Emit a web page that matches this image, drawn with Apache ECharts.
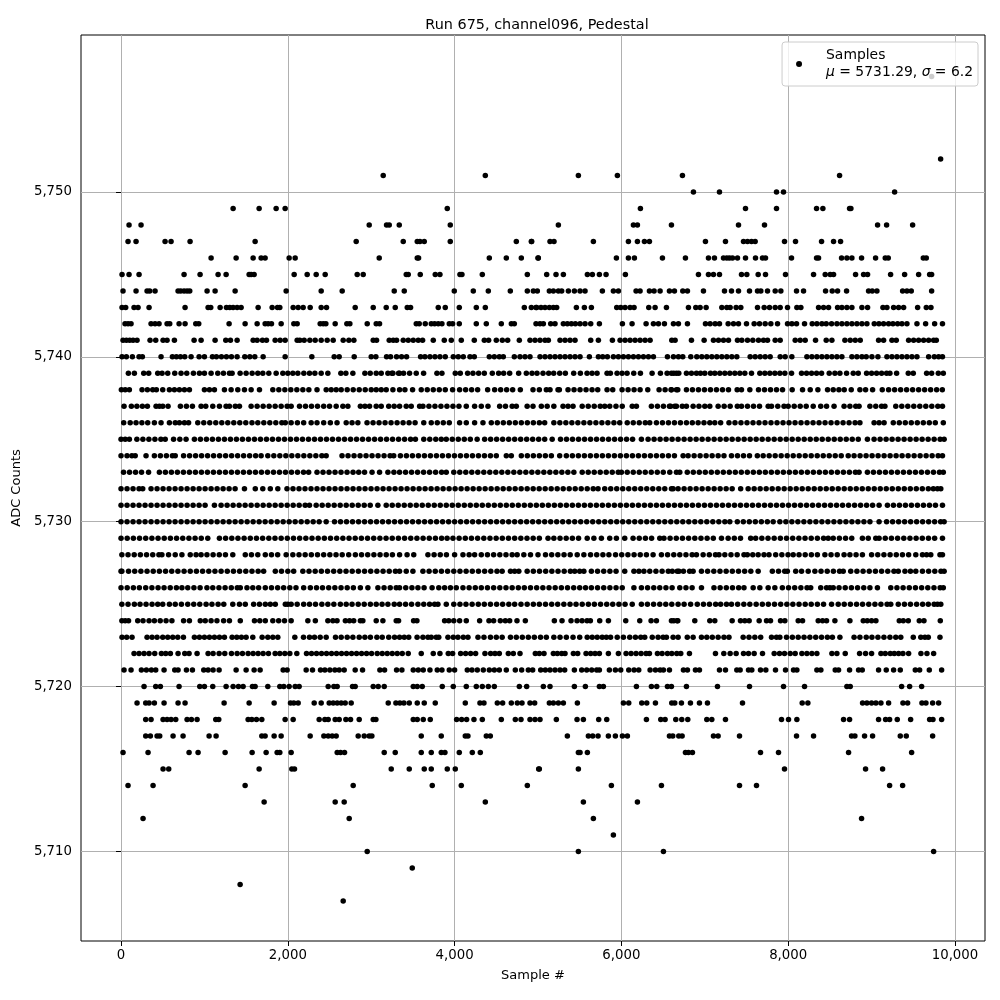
<!DOCTYPE html>
<html>
<head>
  <meta charset="utf-8">
  <title>Run 675, channel096, Pedestal</title>
  <script src="https://cdn.jsdelivr.net/npm/echarts@6/dist/echarts.min.js"></script>
  <style>html,body{margin:0;background:#fff}</style>
</head>
<body>
  <div id="main" style="width:1000px;height:1000px;"></div>
  <script>
    const xTicks = [0, 2000, 4000, 6000, 8000, 10000];
    const yTicks = [5710, 5720, 5730, 5740, 5750];

    // sample numbers, one list per ADC level
    const s5707 = [2664];
    const s5708 = [1428];
    const s5709 = [3492];
    const s5710 = [2952, 5484, 6504, 9744];
    const s5711 = [5904];
    const s5712 = [264, 2736, 5664, 8880];
    const s5713 = [1716, 2568, 2676, 4368, 5544, 6192];
    const s5714 = [84, 384, 1488, 2784, 3732, 4080, 4872, 5880, 6480, 7416, 7620, 9216, 9372];
    const s5715 = [504, 572, 1656, 2048, 2080, 3240, 3456, 3636, 3720, 3912, 4008, 5008, 5016, 5484, 7956, 8928, 9132];
    const s5716 = [24, 324, 816, 924, 1248, 1572, 1740, 1872, 1904, 2040, 2592, 2632, 2680, 3156, 3288, 3600, 3720, 3840, 3884, 4056, 4212, 4308, 5484, 5504, 5592, 6768, 6804, 6852, 7668, 7884, 8724, 9480];
    const s5717 = [296, 352, 432, 464, 624, 744, 1056, 1140, 1688, 1728, 1836, 1920, 2268, 2432, 2484, 2532, 2580, 2844, 2916, 2976, 3008, 3600, 3840, 4128, 4160, 4380, 4428, 5352, 5604, 5656, 5720, 5844, 5928, 6012, 6072, 6576, 6616, 6688, 6728, 7104, 7160, 7416, 8100, 8304, 8760, 8800, 8916, 9012, 9344, 9416, 9732];
    const s5718 = [296, 360, 504, 552, 600, 656, 792, 844, 912, 1136, 1172, 1524, 1568, 1624, 1688, 1968, 2064, 2376, 2444, 2484, 2568, 2616, 2696, 2752, 2856, 3024, 3056, 3504, 3552, 3624, 3708, 4024, 4084, 4144, 4232, 4332, 4560, 4728, 4796, 4904, 4964, 5024, 5220, 5468, 5544, 5728, 5824, 6300, 6472, 6524, 6652, 6724, 6796, 7024, 7084, 7248, 7920, 8004, 8104, 8664, 8736, 9084, 9168, 9216, 9308, 9468, 9696, 9736, 9840];
    const s5719 = [192, 296, 336, 400, 516, 684, 768, 1236, 1536, 1836, 2032, 2072, 2124, 2316, 2400, 2496, 2544, 2592, 2640, 2688, 2760, 3204, 3296, 3344, 3392, 3456, 3552, 3636, 3768, 4128, 4304, 4352, 4512, 4576, 4680, 4752, 4808, 4904, 4960, 5136, 5184, 5244, 5304, 5472, 6024, 6088, 6244, 6304, 6408, 6604, 6640, 6720, 6828, 6936, 7032, 7452, 8168, 8236, 8892, 8944, 9000, 9052, 9112, 9204, 9376, 9432, 9604, 9652, 9732, 9804];
    const s5720 = [276, 416, 472, 696, 944, 1000, 1100, 1260, 1344, 1408, 1464, 1576, 1608, 1760, 1904, 1952, 2016, 2088, 2136, 2484, 2552, 2592, 2776, 2808, 3024, 3084, 3156, 3504, 3552, 3612, 3852, 3984, 4140, 4260, 4332, 4404, 4476, 4776, 4864, 5064, 5144, 5436, 5568, 5736, 5784, 6180, 6360, 6424, 6552, 6600, 6780, 7152, 7536, 7944, 8196, 8704, 8744, 9360, 9456, 9600];
    const s5721 = [36, 120, 244, 304, 364, 416, 516, 644, 684, 784, 856, 992, 1044, 1104, 1176, 1380, 1500, 1596, 1668, 1944, 1992, 2220, 2296, 2392, 2444, 2504, 2564, 2616, 2676, 2808, 2896, 3104, 3160, 3304, 3368, 3504, 3564, 3624, 3704, 3792, 3848, 3936, 4000, 4152, 4208, 4272, 4344, 4416, 4476, 4536, 4620, 4728, 4804, 4884, 4936, 5032, 5088, 5144, 5204, 5264, 5320, 5436, 5524, 5584, 5644, 5704, 5736, 5856, 5928, 5992, 6088, 6152, 6208, 6344, 6408, 6464, 6504, 6576, 6744, 6792, 6888, 6936, 7176, 7248, 7384, 7424, 7524, 7564, 7668, 7732, 7848, 7968, 8064, 8104, 8344, 8392, 8564, 8604, 8736, 8844, 8888, 9084, 9176, 9264, 9344, 9524, 9576, 9692, 9840];
    const s5722 = [156, 216, 276, 336, 404, 484, 536, 592, 684, 764, 816, 912, 1044, 1104, 1176, 1244, 1324, 1392, 1456, 1524, 1584, 1644, 1704, 1768, 1848, 1904, 1964, 2024, 2108, 2224, 2284, 2344, 2404, 2464, 2524, 2584, 2644, 2704, 2764, 2824, 2884, 2944, 3004, 3072, 3132, 3192, 3252, 3312, 3372, 3444, 3600, 3744, 3824, 3924, 3976, 4072, 4132, 4192, 4252, 4364, 4432, 4484, 4536, 4644, 4704, 4784, 4968, 5016, 5072, 5184, 5232, 5284, 5324, 5424, 5476, 5576, 5632, 5684, 5736, 5844, 5964, 6056, 6116, 6176, 6236, 6296, 6336, 6432, 6488, 6552, 6604, 6664, 6712, 6816, 7128, 7228, 7304, 7376, 7464, 7524, 7592, 7692, 7832, 7896, 7956, 8024, 8084, 8164, 8224, 8284, 8344, 8524, 8584, 8684, 8856, 8928, 9000, 9112, 9164, 9224, 9272, 9324, 9376, 9444, 9592, 9664, 9744];
    const s5723 = [12, 68, 132, 312, 372, 432, 500, 560, 620, 680, 748, 880, 940, 1000, 1060, 1120, 1180, 1240, 1332, 1388, 1444, 1500, 1580, 1692, 1760, 1820, 1880, 2084, 2188, 2260, 2320, 2388, 2460, 2572, 2640, 2712, 2780, 2856, 2924, 2990, 3068, 3132, 3210, 3280, 3340, 3396, 3450, 3550, 3620, 3680, 3720, 3780, 3810, 3920, 3984, 4040, 4104, 4160, 4280, 4352, 4430, 4500, 4570, 4670, 4740, 4812, 4884, 4956, 5030, 5100, 5190, 5264, 5340, 5420, 5500, 5590, 5650, 5710, 5770, 5820, 5870, 5950, 6024, 6100, 6168, 6232, 6280, 6370, 6440, 6500, 6540, 6620, 6680, 6790, 6860, 6960, 7024, 7090, 7160, 7230, 7290, 7460, 7530, 7600, 7670, 7800, 7860, 7900, 7980, 8050, 8120, 8190, 8260, 8330, 8400, 8470, 8530, 8620, 8790, 8860, 8936, 9004, 9076, 9148, 9220, 9290, 9350, 9500, 9590, 9640, 9680, 9820];
    const s5724 = [10, 50, 90, 200, 264, 336, 400, 470, 540, 610, 750, 820, 950, 1010, 1080, 1150, 1230, 1300, 1430, 1600, 1664, 1730, 1820, 1890, 1960, 2040, 2240, 2330, 2480, 2540, 2590, 2690, 2740, 2790, 2870, 2900, 3060, 3140, 3300, 3328, 3508, 3548, 3880, 3930, 3990, 4060, 4140, 4300, 4412, 4468, 4548, 4608, 4660, 4748, 4848, 5196, 5288, 5396, 5468, 5528, 5588, 5628, 5740, 5844, 6052, 6220, 6356, 6420, 6628, 6676, 6600, 6668, 6880, 7060, 7120, 7328, 7428, 7480, 7532, 7652, 7740, 7788, 7908, 7960, 8120, 8172, 8360, 8412, 8460, 8560, 8740, 8900, 8948, 9000, 9052, 9332, 9380, 9440, 9572, 9628, 9824];
    const s5725 = [10, 84, 160, 228, 300, 372, 440, 500, 580, 650, 724, 800, 872, 944, 1020, 1090, 1164, 1232, 1340, 1420, 1490, 1590, 1660, 1730, 1790, 1850, 1970, 2000, 2040, 2112, 2190, 2260, 2332, 2408, 2480, 2552, 2630, 2700, 2770, 2844, 2916, 2990, 3060, 3130, 3200, 3276, 3340, 3412, 3484, 3560, 3630, 3700, 3760, 3800, 3900, 3990, 4064, 4136, 4210, 4284, 4356, 4430, 4504, 4576, 4650, 4720, 4796, 4870, 4944, 5016, 5090, 5164, 5236, 5310, 5384, 5456, 5530, 5604, 5676, 5750, 5824, 5896, 5970, 6044, 6130, 6240, 6312, 6386, 6460, 6532, 6604, 6680, 6752, 6830, 6910, 6984, 7056, 7130, 7190, 7260, 7320, 7394, 7468, 7540, 7616, 7690, 7762, 7836, 7910, 7984, 8056, 8130, 8204, 8276, 8350, 8424, 8520, 8600, 8672, 8746, 8820, 8892, 8966, 9040, 9112, 9186, 9230, 9320, 9394, 9466, 9540, 9612, 9680, 9750, 9790, 9830];
    const s5726 = [0, 74, 148, 220, 296, 370, 444, 516, 590, 664, 730, 800, 874, 948, 1030, 1100, 1174, 1248, 1322, 1394, 1430, 1510, 1580, 1650, 1730, 1804, 1878, 1950, 2024, 2098, 2190, 2270, 2344, 2416, 2490, 2564, 2638, 2712, 2786, 2870, 2960, 3080, 3154, 3228, 3300, 3340, 3414, 3488, 3560, 3634, 3730, 3810, 3880, 3950, 4020, 4100, 4174, 4248, 4320, 4394, 4468, 4542, 4616, 4690, 4764, 4836, 4910, 4984, 5058, 5132, 5206, 5280, 5354, 5428, 5500, 5570, 5640, 5714, 5788, 5862, 5936, 6010, 6150, 6240, 6314, 6388, 6460, 6534, 6608, 6700, 6774, 6848, 6960, 7110, 7184, 7258, 7332, 7406, 7470, 7580, 7660, 7760, 7840, 7930, 8004, 8078, 8152, 8226, 8270, 8390, 8460, 8500, 8540, 8610, 8684, 8758, 8832, 8906, 8980, 9070, 9230, 9304, 9378, 9452, 9526, 9600, 9674, 9748, 9822, 9860];
    const s5727 = [0, 10, 90, 164, 238, 312, 386, 460, 534, 608, 682, 756, 830, 904, 978, 1052, 1126, 1200, 1274, 1348, 1422, 1496, 1570, 1644, 1710, 1850, 1924, 2000, 2070, 2180, 2254, 2328, 2402, 2476, 2550, 2624, 2698, 2772, 2846, 2920, 2994, 3068, 3142, 3216, 3290, 3340, 3420, 3500, 3620, 3694, 3768, 3842, 3916, 3990, 4064, 4138, 4212, 4286, 4360, 4434, 4508, 4570, 4670, 4720, 4770, 4870, 4944, 5018, 5092, 5166, 5240, 5314, 5388, 5440, 5500, 5550, 5640, 5714, 5788, 5862, 5936, 6040, 6150, 6210, 6270, 6340, 6414, 6488, 6562, 6610, 6690, 6670, 6744, 6818, 6860, 6960, 7034, 7108, 7182, 7256, 7330, 7404, 7478, 7552, 7640, 7810, 7884, 7958, 7990, 8090, 8160, 8240, 8320, 8394, 8468, 8542, 8616, 8660, 8750, 8824, 8898, 8972, 9046, 9120, 9194, 9268, 9320, 9400, 9466, 9530, 9610, 9684, 9758, 9832, 9870];
    const s5728 = [10, 84, 158, 232, 306, 380, 454, 490, 570, 650, 730, 830, 900, 960, 1030, 1104, 1178, 1252, 1340, 1490, 1564, 1640, 1730, 1804, 1878, 1980, 2060, 2134, 2208, 2282, 2356, 2430, 2504, 2578, 2652, 2730, 2810, 2884, 2958, 3032, 3106, 3180, 3254, 3340, 3430, 3510, 3680, 3754, 3828, 3902, 4000, 4100, 4174, 4240, 4320, 4394, 4468, 4542, 4616, 4690, 4750, 4830, 4910, 5000, 5090, 5164, 5238, 5312, 5386, 5470, 5550, 5630, 5704, 5778, 5850, 5930, 6004, 6078, 6152, 6226, 6300, 6380, 6480, 6554, 6628, 6700, 6774, 6848, 6900, 6980, 7054, 7128, 7170, 7240, 7314, 7388, 7470, 7510, 7575, 7640, 7710, 7770, 7850, 7924, 7998, 8060, 8130, 8204, 8278, 8350, 8440, 8514, 8588, 8670, 8740, 8814, 8890, 9000, 9074, 9148, 9222, 9296, 9370, 9444, 9530, 9610, 9660, 9710, 9820, 9850];
    const s5729 = [0, 74, 148, 222, 296, 370, 444, 518, 592, 666, 740, 814, 888, 962, 1040, 1180, 1254, 1328, 1402, 1476, 1550, 1624, 1698, 1772, 1846, 1920, 1994, 2068, 2142, 2216, 2290, 2364, 2438, 2512, 2586, 2660, 2734, 2808, 2882, 2956, 3030, 3104, 3178, 3252, 3326, 3400, 3474, 3548, 3622, 3696, 3770, 3844, 3910, 3980, 4054, 4128, 4202, 4276, 4350, 4424, 4498, 4572, 4646, 4720, 4794, 4868, 4942, 5016, 5120, 5190, 5264, 5338, 5412, 5486, 5590, 5670, 5760, 5860, 5940, 6040, 6140, 6214, 6288, 6362, 6460, 6510, 6584, 6658, 6732, 6806, 6880, 6954, 7028, 7102, 7200, 7280, 7354, 7428, 7550, 7610, 7684, 7758, 7832, 7906, 7980, 8054, 8128, 8202, 8276, 8350, 8424, 8480, 8540, 8614, 8688, 8762, 8890, 8960, 9050, 9090, 9164, 9238, 9312, 9386, 9460, 9534, 9608, 9682, 9756, 9850];
    const s5730 = [0, 72, 144, 216, 288, 360, 432, 504, 576, 648, 720, 792, 864, 936, 1008, 1080, 1152, 1224, 1296, 1368, 1440, 1512, 1584, 1656, 1728, 1800, 1872, 1944, 2016, 2088, 2160, 2232, 2304, 2376, 2460, 2560, 2632, 2704, 2776, 2848, 2920, 2992, 3064, 3136, 3208, 3280, 3352, 3424, 3496, 3568, 3640, 3712, 3784, 3856, 3928, 4000, 4072, 4144, 4216, 4288, 4360, 4432, 4504, 4576, 4648, 4720, 4792, 4864, 4936, 5008, 5080, 5152, 5224, 5296, 5368, 5440, 5512, 5584, 5656, 5728, 5800, 5872, 5944, 6016, 6088, 6160, 6232, 6304, 6376, 6448, 6520, 6592, 6664, 6736, 6808, 6880, 6952, 7024, 7096, 7168, 7240, 7300, 7390, 7462, 7534, 7606, 7678, 7750, 7820, 7900, 7972, 8044, 8116, 8188, 8260, 8332, 8404, 8476, 8548, 8620, 8692, 8764, 8836, 8908, 8980, 9090, 9180, 9252, 9324, 9396, 9468, 9540, 9612, 9684, 9756, 9828, 9870];
    const s5731 = [0, 72, 144, 216, 288, 360, 432, 504, 576, 648, 720, 792, 864, 936, 1008, 1120, 1200, 1272, 1344, 1416, 1488, 1560, 1632, 1704, 1776, 1848, 1920, 1992, 2064, 2136, 2208, 2260, 2340, 2412, 2484, 2556, 2628, 2700, 2772, 2844, 2916, 2988, 3080, 3180, 3252, 3324, 3396, 3468, 3540, 3612, 3684, 3756, 3828, 3900, 3972, 4044, 4116, 4188, 4260, 4332, 4404, 4476, 4548, 4620, 4692, 4764, 4836, 4908, 4980, 5052, 5124, 5196, 5268, 5340, 5412, 5484, 5556, 5628, 5700, 5772, 5844, 5916, 5988, 6060, 6132, 6204, 6276, 6348, 6420, 6492, 6564, 6636, 6708, 6780, 6852, 6924, 6996, 7068, 7140, 7212, 7284, 7356, 7428, 7500, 7572, 7644, 7716, 7788, 7860, 7932, 8004, 8076, 8148, 8220, 8292, 8364, 8436, 8508, 8580, 8652, 8724, 8796, 8868, 8940, 9012, 9090, 9190, 9262, 9334, 9406, 9478, 9550, 9622, 9694, 9766, 9850];
    const s5732 = [0, 72, 144, 216, 260, 360, 432, 504, 576, 648, 720, 792, 864, 936, 1008, 1080, 1152, 1224, 1296, 1368, 1480, 1610, 1700, 1790, 1880, 1990, 2062, 2134, 2206, 2278, 2350, 2422, 2494, 2566, 2638, 2710, 2782, 2854, 2926, 2998, 3070, 3142, 3214, 3286, 3358, 3430, 3502, 3574, 3646, 3718, 3790, 3862, 3934, 4006, 4078, 4150, 4222, 4294, 4366, 4438, 4510, 4582, 4654, 4726, 4798, 4870, 4942, 5014, 5086, 5158, 5230, 5302, 5374, 5446, 5518, 5590, 5662, 5720, 5800, 5872, 5944, 6016, 6088, 6160, 6232, 6304, 6376, 6448, 6520, 6620, 6600, 6680, 6752, 6824, 6896, 6968, 7040, 7112, 7184, 7256, 7328, 7430, 7520, 7592, 7664, 7736, 7808, 7880, 7952, 8024, 8096, 8168, 8240, 8312, 8384, 8456, 8528, 8600, 8672, 8744, 8816, 8888, 8960, 9032, 9104, 9176, 9248, 9320, 9392, 9464, 9536, 9608, 9680, 9740, 9790, 9830];
    const s5733 = [30, 102, 174, 246, 330, 460, 532, 604, 676, 748, 820, 892, 964, 1036, 1108, 1180, 1252, 1324, 1396, 1468, 1540, 1612, 1684, 1756, 1828, 1900, 1972, 2044, 2116, 2188, 2250, 2350, 2422, 2494, 2566, 2638, 2710, 2782, 2850, 2920, 3010, 3100, 3200, 3272, 3340, 3412, 3484, 3556, 3628, 3700, 3772, 3844, 3900, 3990, 4062, 4134, 4206, 4278, 4350, 4422, 4494, 4566, 4638, 4710, 4782, 4854, 4926, 4998, 5070, 5142, 5214, 5286, 5358, 5430, 5530, 5602, 5674, 5746, 5818, 5890, 5962, 6000, 6070, 6142, 6214, 6286, 6358, 6430, 6502, 6580, 6660, 6700, 6790, 6862, 6934, 7006, 7078, 7150, 7222, 7294, 7366, 7438, 7510, 7582, 7654, 7726, 7798, 7870, 7942, 8014, 8086, 8158, 8230, 8302, 8374, 8446, 8518, 8590, 8662, 8734, 8806, 8850, 8950, 9022, 9094, 9166, 9238, 9310, 9382, 9454, 9526, 9598, 9670, 9742, 9814, 9860];
    const s5734 = [0, 72, 130, 170, 300, 400, 472, 544, 616, 650, 750, 822, 894, 966, 1038, 1110, 1182, 1254, 1326, 1398, 1470, 1542, 1614, 1680, 1760, 1832, 1904, 1976, 2048, 2120, 2192, 2264, 2336, 2408, 2460, 2650, 2722, 2794, 2866, 2938, 3010, 3082, 3154, 3226, 3270, 3350, 3422, 3494, 3566, 3638, 3710, 3782, 3854, 3926, 3998, 4070, 4142, 4214, 4286, 4358, 4430, 4500, 4620, 4680, 4800, 4872, 4944, 5016, 5088, 5160, 5260, 5340, 5412, 5484, 5556, 5628, 5700, 5772, 5844, 5916, 5988, 6060, 6132, 6204, 6276, 6348, 6420, 6492, 6564, 6636, 6740, 6800, 6872, 6944, 7016, 7088, 7160, 7230, 7320, 7392, 7464, 7536, 7630, 7700, 7772, 7844, 7916, 7988, 8060, 8132, 8204, 8276, 8348, 8420, 8492, 8564, 8636, 8720, 8790, 8862, 8934, 9006, 9078, 9150, 9222, 9294, 9366, 9438, 9510, 9582, 9654, 9726, 9798, 9850];
    const s5735 = [0, 50, 100, 190, 262, 334, 406, 478, 530, 630, 705, 780, 880, 952, 1024, 1096, 1168, 1240, 1312, 1384, 1456, 1528, 1600, 1672, 1744, 1816, 1888, 1960, 2032, 2104, 2176, 2248, 2320, 2392, 2464, 2536, 2608, 2680, 2752, 2824, 2896, 2968, 3040, 3112, 3184, 3256, 3328, 3400, 3472, 3530, 3630, 3702, 3774, 3840, 3900, 3972, 4044, 4116, 4188, 4270, 4360, 4432, 4504, 4576, 4648, 4720, 4792, 4864, 4936, 5008, 5080, 5170, 5270, 5342, 5414, 5486, 5558, 5630, 5702, 5774, 5846, 5918, 5990, 6062, 6134, 6240, 6320, 6392, 6464, 6536, 6608, 6680, 6752, 6824, 6896, 6968, 7040, 7112, 7184, 7256, 7328, 7400, 7472, 7544, 7616, 7688, 7760, 7832, 7904, 7976, 8048, 8120, 8192, 8264, 8336, 8408, 8480, 8552, 8624, 8696, 8768, 8840, 8950, 9030, 9102, 9174, 9246, 9318, 9390, 9462, 9534, 9606, 9678, 9750, 9822, 9870];
    const s5736 = [32, 110, 180, 250, 320, 400, 480, 580, 650, 700, 760, 810, 920, 992, 1064, 1136, 1208, 1280, 1352, 1424, 1496, 1570, 1640, 1712, 1784, 1856, 1928, 1970, 2040, 2115, 2190, 2280, 2350, 2430, 2510, 2590, 2700, 2770, 2840, 2950, 3022, 3094, 3166, 3238, 3310, 3382, 3454, 3526, 3630, 3720, 3792, 3864, 3936, 4060, 4140, 4240, 4340, 4440, 4512, 4584, 4656, 4728, 4800, 4872, 4944, 5016, 5080, 5190, 5262, 5334, 5406, 5478, 5550, 5622, 5694, 5766, 5838, 5910, 5980, 6070, 6142, 6214, 6286, 6340, 6420, 6492, 6564, 6636, 6708, 6780, 6850, 6920, 6990, 7060, 7120, 7190, 7290, 7362, 7434, 7506, 7578, 7650, 7722, 7794, 7866, 7938, 8010, 8082, 8154, 8226, 8298, 8370, 8442, 8514, 8586, 8658, 8730, 8802, 8860, 9030, 9090, 9150, 9260, 9332, 9404, 9476, 9548, 9620, 9692, 9764, 9860];
    const s5737 = [36, 124, 190, 256, 316, 420, 460, 500, 564, 712, 784, 856, 960, 1016, 1100, 1180, 1260, 1300, 1370, 1420, 1560, 1632, 1704, 1776, 1848, 1920, 1992, 2040, 2140, 2212, 2284, 2356, 2430, 2500, 2580, 2660, 2720, 2870, 2925, 2980, 3060, 3120, 3210, 3275, 3340, 3420, 3480, 3580, 3620, 3692, 3764, 3836, 3908, 3980, 4052, 4140, 4240, 4320, 4400, 4540, 4610, 4690, 4740, 4870, 4940, 5040, 5110, 5190, 5300, 5360, 5420, 5530, 5602, 5674, 5746, 5800, 5860, 5935, 6010, 6130, 6180, 6360, 6432, 6504, 6576, 6660, 6590, 6640, 6730, 6780, 6860, 6930, 7000, 7060, 7160, 7232, 7304, 7390, 7440, 7512, 7584, 7656, 7760, 7800, 7875, 7950, 8000, 8072, 8144, 8216, 8300, 8390, 8460, 8550, 8670, 8740, 8810, 8850, 8980, 9050, 9120, 9160, 9290, 9362, 9434, 9506, 9578, 9650, 9722, 9794, 9850];
    const s5738 = [4, 50, 100, 252, 316, 380, 424, 500, 580, 640, 700, 760, 820, 1000, 1060, 1120, 1240, 1320, 1400, 1480, 1560, 1660, 1820, 1892, 1964, 2036, 2108, 2180, 2252, 2350, 2460, 2520, 2580, 2640, 2712, 2784, 2856, 2928, 3000, 3060, 3120, 3180, 3260, 3340, 3404, 3496, 3600, 3672, 3744, 3816, 3888, 3976, 4060, 4132, 4204, 4276, 4396, 4480, 4552, 4624, 4696, 4788, 4940, 5016, 5100, 5144, 5240, 5256, 5360, 5432, 5504, 5576, 5648, 5716, 5828, 5896, 6008, 6080, 6152, 6224, 6316, 6452, 6524, 6596, 6676, 6600, 6660, 6780, 6852, 6924, 6996, 7068, 7140, 7212, 7284, 7388, 7440, 7540, 7644, 7716, 7788, 7860, 7932, 8048, 8172, 8264, 8356, 8472, 8540, 8608, 8672, 8756, 8860, 8928, 9012, 9128, 9204, 9276, 9348, 9420, 9492, 9564, 9636, 9708, 9780, 9848];
    const s5739 = [88, 160, 272, 332, 440, 492, 560, 644, 720, 788, 868, 940, 1000, 1080, 1160, 1228, 1300, 1332, 1428, 1500, 1572, 1640, 1700, 1772, 1860, 1940, 2000, 2060, 2120, 2192, 2260, 2324, 2400, 2480, 2636, 2696, 2780, 2924, 2988, 3060, 3120, 3200, 3260, 3340, 3248, 3328, 3388, 3460, 3540, 3628, 3788, 3848, 4008, 4068, 4156, 4220, 4288, 4356, 4452, 4528, 4588, 4660, 4768, 4860, 4928, 4988, 5060, 5128, 5188, 5260, 5328, 5428, 5508, 5588, 5648, 5708, 5828, 5868, 5948, 6008, 6068, 6148, 6228, 6368, 6468, 6548, 6628, 6688, 6600, 6660, 6780, 6840, 6900, 6948, 7000, 7068, 7120, 7180, 7240, 7300, 7360, 7420, 7480, 7560, 7660, 7720, 7780, 7840, 7900, 7960, 8040, 8160, 8220, 8280, 8340, 8400, 8492, 8560, 8620, 8700, 8780, 8840, 8940, 9000, 9060, 9120, 9180, 9220, 9300, 9440, 9500, 9660, 9720, 9800, 9860];
    const s5740 = [12, 64, 136, 216, 256, 480, 616, 664, 712, 764, 840, 936, 1000, 1096, 1144, 1204, 1264, 1324, 1392, 1484, 1544, 1604, 1704, 1968, 2288, 2556, 2616, 2796, 3000, 3056, 3184, 3232, 3304, 3364, 3424, 3592, 3644, 3704, 3764, 3824, 3888, 3984, 4044, 4104, 4184, 4236, 4416, 4476, 4536, 4584, 4716, 4784, 4844, 4904, 5024, 5084, 5144, 5204, 5264, 5324, 5384, 5444, 5504, 5616, 5724, 5776, 5832, 5904, 5964, 6024, 6084, 6144, 6204, 6264, 6324, 6384, 6552, 6624, 6684, 6736, 6832, 6904, 6964, 7024, 7084, 7144, 7204, 7264, 7324, 7384, 7544, 7604, 7664, 7724, 7784, 7904, 7964, 8044, 8224, 8284, 8344, 8404, 8464, 8524, 8584, 8644, 8764, 8824, 8884, 8936, 9004, 9076, 9184, 9244, 9304, 9364, 9424, 9484, 9544, 9684, 9752, 9804, 9850];
    const s5741 = [24, 64, 104, 144, 192, 348, 416, 504, 552, 640, 876, 960, 1128, 1256, 1312, 1392, 1584, 1632, 1696, 1744, 1848, 1908, 1968, 2112, 2144, 2196, 2264, 2328, 2400, 2472, 2544, 2664, 2732, 2792, 3024, 3064, 3216, 3264, 3304, 3384, 3444, 3504, 3564, 3616, 3744, 3876, 3960, 4080, 4236, 4356, 4408, 4500, 4572, 4636, 4776, 4904, 4964, 5024, 5084, 5124, 5264, 5324, 5384, 5444, 5632, 5724, 5892, 5984, 6044, 6104, 6164, 6224, 6284, 6344, 6604, 6644, 6840, 6992, 7104, 7164, 7224, 7284, 7392, 7444, 7512, 7576, 7644, 7704, 7752, 7844, 7904, 8084, 8144, 8204, 8328, 8456, 8524, 8680, 8744, 8804, 8864, 9084, 9144, 9244, 9296, 9444, 9504, 9564, 9624, 9684, 9744, 9776];
    const s5742 = [48, 84, 120, 360, 408, 456, 552, 584, 696, 768, 896, 932, 1296, 1488, 1632, 1728, 1764, 1804, 1920, 2072, 2112, 2388, 2424, 2456, 2568, 2708, 2744, 2952, 3060, 3100, 3540, 3576, 3648, 3720, 3760, 3804, 3848, 3936, 3976, 4056, 4260, 4380, 4560, 4680, 4716, 4976, 5024, 5064, 5152, 5204, 5304, 5352, 5400, 5448, 5504, 5564, 5632, 5736, 6012, 6128, 6296, 6384, 6444, 6516, 6624, 6684, 6792, 7008, 7064, 7124, 7176, 7280, 7344, 7404, 7500, 7592, 7656, 7724, 7792, 7872, 7992, 8044, 8100, 8196, 8288, 8344, 8404, 8456, 8520, 8584, 8644, 8704, 8764, 8824, 8884, 8944, 9032, 9088, 9144, 9204, 9256, 9312, 9364, 9424, 9544, 9648, 9756, 9850];
    const s5743 = [12, 56, 156, 204, 336, 768, 1044, 1076, 1188, 1264, 1304, 1344, 1392, 1440, 1644, 1812, 1876, 1904, 2064, 2124, 2184, 2268, 2400, 2464, 2808, 3024, 3180, 3288, 3432, 3472, 3804, 3888, 4056, 4260, 4368, 4836, 4920, 4976, 4984, 5036, 5084, 5136, 5184, 5224, 5460, 5556, 5640, 5944, 5992, 6044, 6104, 6152, 6328, 6404, 6540, 6804, 6892, 6944, 7016, 7204, 7264, 7304, 7376, 7432, 7632, 7712, 7776, 7844, 7904, 7992, 8104, 8152, 8364, 8424, 8484, 8592, 8644, 8704, 8764, 8884, 8952, 9136, 9184, 9264, 9324, 9384, 9552, 9656, 9712];
    const s5744 = [24, 180, 312, 344, 408, 684, 716, 756, 792, 824, 1032, 1128, 1368, 1980, 2400, 2652, 3276, 3396, 3996, 4224, 4404, 4668, 4872, 4944, 4992, 5136, 5184, 5244, 5284, 5364, 5436, 5504, 5564, 5772, 5904, 5964, 6176, 6224, 6336, 6392, 6464, 6576, 6636, 6736, 6792, 6984, 7236, 7320, 7404, 7536, 7632, 7672, 7752, 7844, 7912, 8100, 8184, 8448, 8528, 8592, 8700, 8964, 9008, 9064, 9372, 9424, 9476, 9720];
    const s5745 = [12, 96, 216, 756, 948, 1164, 1260, 1536, 1560, 1596, 2076, 2232, 2340, 2448, 2832, 2904, 3420, 3444, 3588, 3768, 3824, 4064, 4088, 4332, 4872, 5104, 5216, 5304, 5592, 5652, 5736, 5816, 6048, 6924, 7044, 7104, 7176, 7440, 7504, 7640, 7728, 7968, 8304, 8444, 8504, 8544, 8808, 8904, 8952, 9228, 9396, 9564, 9696, 9720];
    const s5746 = [1080, 1380, 1584, 1680, 1728, 2016, 2088, 3096, 3552, 3568, 4416, 4620, 4800, 5000, 5004, 5940, 6084, 6156, 6492, 6768, 7044, 7116, 7224, 7264, 7296, 7332, 7392, 7488, 7608, 7692, 7728, 8040, 8340, 8364, 8640, 8704, 8764, 8880, 9048, 9164, 9200, 9620, 9656];
    const s5747 = [84, 180, 528, 600, 828, 1608, 2820, 3384, 3552, 3584, 3636, 3948, 4740, 4920, 4924, 5144, 5192, 5664, 6084, 6192, 6276, 6336, 7008, 7248, 7464, 7512, 7560, 7604, 7956, 8088, 8400, 8544, 8628];
    const s5748 = [96, 240, 2976, 3184, 3216, 3336, 3948, 5244, 6144, 6192, 6600, 7404, 7716, 9072, 9180, 9492];
    const s5749 = [1344, 1656, 1860, 1968, 3912, 6228, 7488, 7860, 8340, 8416, 8736, 8752];
    const s5750 = [6864, 7176, 7860, 7944, 9276];
    const s5751 = [3144, 4368, 5484, 5952, 6732, 8616];
    const s5752 = [9828];
    const s5757 = [9720];

    const rows = [
      [5707, s5707], [5708, s5708], [5709, s5709], [5710, s5710], [5711, s5711], [5712, s5712], [5713, s5713],
      [5714, s5714], [5715, s5715], [5716, s5716], [5717, s5717], [5718, s5718], [5719, s5719], [5720, s5720],
      [5721, s5721], [5722, s5722], [5723, s5723], [5724, s5724], [5725, s5725], [5726, s5726], [5727, s5727],
      [5728, s5728], [5729, s5729], [5730, s5730], [5731, s5731], [5732, s5732], [5733, s5733], [5734, s5734],
      [5735, s5735], [5736, s5736], [5737, s5737], [5738, s5738], [5739, s5739], [5740, s5740], [5741, s5741],
      [5742, s5742], [5743, s5743], [5744, s5744], [5745, s5745], [5746, s5746], [5747, s5747], [5748, s5748],
      [5749, s5749], [5750, s5750], [5751, s5751], [5752, s5752], [5757, s5757]
    ];
    const points = [];
    rows.forEach(function (r) {
      r[1].forEach(function (x) { points.push([x, r[0]]); });
    });

    const font = "'DejaVu Sans'";
    const chart = echarts.init(document.getElementById("main"), null, { renderer: "canvas" });
    chart.setOption({
      animation: false,
      textStyle: { fontFamily: font },
      title: {
        text: "Run 675, channel096, Pedestal",
        left: 532, top: 13, textAlign: "center",
        textStyle: { fontFamily: font, fontSize: 14.4, fontWeight: "normal", color: "#000" }
      },
      grid: { left: 81, right: 15, top: 35, bottom: 59, show: true, borderColor: "#000", borderWidth: 1, backgroundColor: "#fff" },
      legend: {
        right: 22, top: 42, orient: "vertical", padding: [5, 5, 5, 14],
        backgroundColor: "rgba(255,255,255,0.8)", borderColor: "#ccc", borderWidth: 1, borderRadius: 3,
        itemWidth: 6, itemHeight: 6, itemGap: 0,
        data: [{ name: "Samples", icon: "circle" }],
        formatter: function () { return "Samples\n{i|μ} = 5731.29, {i|σ} = 6.2"; },
        textStyle: {
          fontFamily: font, fontSize: 13.9, color: "#000", lineHeight: 17, padding: [0, 0, 0, 19],
          rich: { i: { fontFamily: font, fontStyle: "italic", fontSize: 13.9, lineHeight: 17 } }
        }
      },
      xAxis: {
        type: "value", min: -480, max: 10360,
        name: "Sample #", nameLocation: "middle", nameGap: 28,
        nameTextStyle: { fontFamily: font, fontSize: 13, color: "#000" },
        axisLine: { show: false },
        axisTick: { show: true, length: 5, customValues: xTicks, lineStyle: { color: "#000" } },
        axisLabel: { customValues: xTicks, fontFamily: font, fontSize: 13.3, color: "#000", margin: 8 },
        splitLine: { show: true, lineStyle: { color: "#b0b0b0", width: 1 } }
      },
      yAxis: {
        type: "value", min: 5704.57, max: 5759.52,
        name: "ADC Counts", nameLocation: "middle", nameGap: 53,
        nameTextStyle: { fontFamily: font, fontSize: 13, color: "#000" },
        axisLine: { show: false },
        axisTick: { show: true, length: 5, customValues: yTicks, lineStyle: { color: "#000" } },
        axisLabel: { customValues: yTicks, fontFamily: font, fontSize: 13.3, color: "#000", margin: 9 },
        splitLine: { show: true, lineStyle: { color: "#b0b0b0", width: 1 } }
      },
      series: [{
        name: "Samples", type: "scatter", symbol: "circle", symbolSize: 5.5,
        itemStyle: { color: "#000", opacity: 1 }, silent: true, data: points
      }]
    });
  </script>
</body>
</html>
